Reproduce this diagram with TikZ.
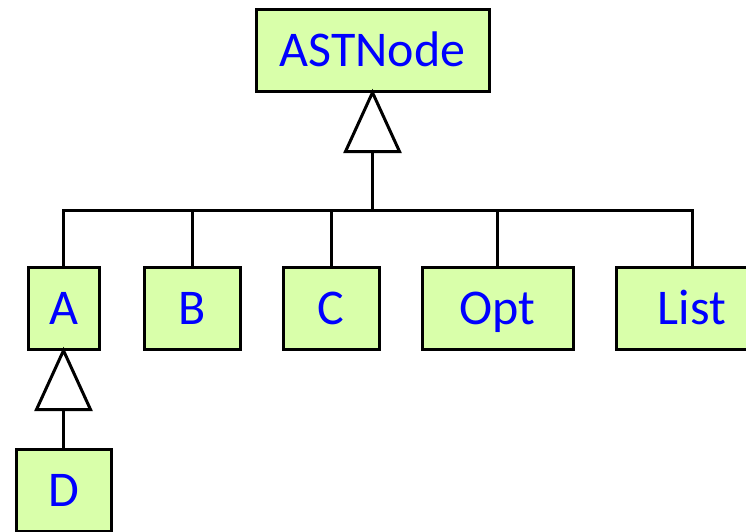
\documentclass[tikz,border=0pt]{standalone}
\usepackage{fontspec}
\setmainfont{Carlito}
\usetikzlibrary{calc}
\definecolor{boxfill}{RGB}{217,255,170}
\definecolor{txtblue}{RGB}{0,0,255}
\begin{document}
\begin{tikzpicture}[x=1pt,y=-1pt,
  cls/.style={draw=black, line width=3pt, fill=boxfill, text=txtblue,
    font=\fontsize{50}{54}\selectfont, text height=32pt, text depth=0pt,
    minimum height=82pt, inner sep=0pt},
  ln/.style={line width=3pt},
  tri/.style={line width=3pt, fill=white, line join=miter}]
\useasboundingbox (0,0) rectangle (746,531);
\clip (0,0) rectangle (746,531);
\node[cls, minimum width=233pt, minimum height=82pt] (ast) at (372.5,50) {ASTNode};
\node[cls, minimum width=71pt] (a) at (63.5,308) {A};
\node[cls, minimum width=96pt] (b) at (192,308) {B};
\node[cls, minimum width=96pt] (c) at (331,308) {C};
\node[cls, minimum width=151pt] (opt) at (497.5,308) {Opt};
\node[cls, minimum width=152pt] (list) at (692,308) {List};
\node[cls, minimum width=95pt] (d) at (63.5,490) {D};
% inheritance triangle to ASTNode
\coordinate (t1) at ($(ast.south)+(0,59)$);
\coordinate (bus) at ($(ast.south)+(0,118)$);
\draw[ln] (t1) -- (bus);
\draw[tri] (ast.south) -- ($(ast.south)+(-27,59)$) -- ($(ast.south)+(27,59)$) -- cycle;
\draw[ln] (a.north) -- (a.north |- bus) -- (list.north |- bus) -- (list.north);
\draw[ln] (b.north) -- (b.north |- bus);
\draw[ln] (c.north) -- (c.north |- bus);
\draw[ln] (opt.north) -- (opt.north |- bus);
% inheritance triangle to A
\coordinate (t2) at ($(a.south)+(0,59)$);
\draw[ln] (t2) -- (d.north);
\draw[tri] (a.south) -- ($(a.south)+(-27,59)$) -- ($(a.south)+(27,59)$) -- cycle;
\end{tikzpicture}
\end{document}
